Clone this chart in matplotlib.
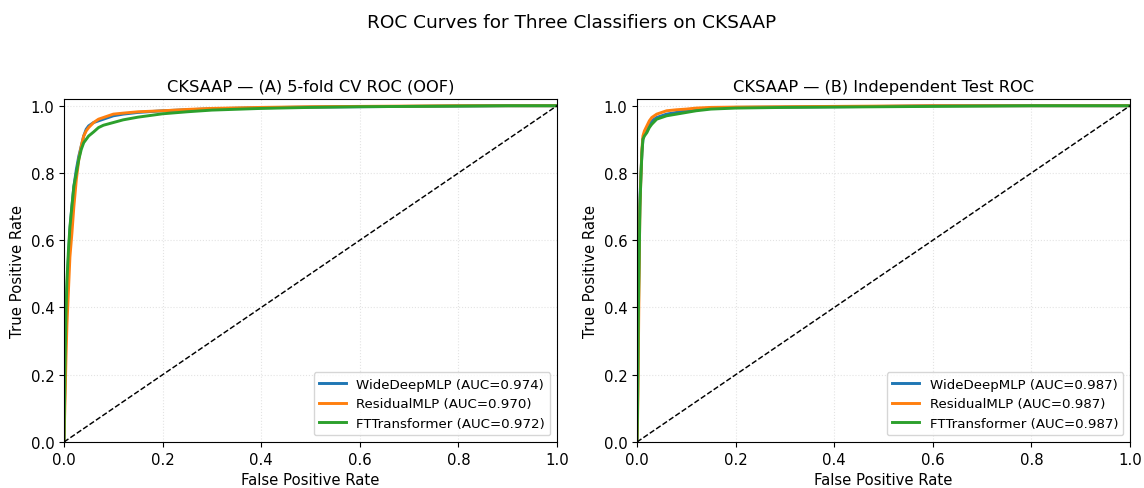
import matplotlib
matplotlib.use("Agg")
import matplotlib.pyplot as plt

models = ["WideDeepMLP", "ResidualMLP", "FTTransformer"]
colors = ["#1f77b4", "#ff7f0e", "#2ca02c"]

cv_auc = [0.974, 0.970, 0.972]
test_auc = [0.987, 0.987, 0.987]

cv_fpr = [0, 0.002, 0.004, 0.006, 0.009, 0.012, 0.016, 0.02, 0.025, 0.03, 0.035, 0.04,
          0.045, 0.05, 0.06, 0.07, 0.08, 0.1, 0.12, 0.15, 0.2, 0.25, 0.3, 0.4, 0.5, 0.6,
          0.7, 0.8, 0.9, 1.0]
cv_tpr_wide = [0, 0.2, 0.35, 0.45, 0.55, 0.63, 0.7, 0.76, 0.81, 0.85, 0.88, 0.91, 0.93,
               0.94, 0.95, 0.955, 0.96, 0.97, 0.975, 0.98, 0.985, 0.988, 0.991, 0.994,
               0.996, 0.997, 0.998, 0.999, 1.0, 1.0]
cv_tpr_res = [0, 0.12, 0.25, 0.35, 0.45, 0.55, 0.62, 0.7, 0.78, 0.84, 0.88, 0.91, 0.925,
              0.935, 0.95, 0.96, 0.965, 0.975, 0.978, 0.982, 0.985, 0.989, 0.992, 0.995,
              0.997, 0.998, 0.999, 1.0, 1.0, 1.0]
cv_tpr_ft = [0, 0.22, 0.38, 0.48, 0.57, 0.64, 0.7, 0.76, 0.8, 0.84, 0.87, 0.89, 0.9, 0.91,
             0.922, 0.935, 0.942, 0.95, 0.958, 0.966, 0.976, 0.982, 0.987, 0.992, 0.995,
             0.997, 0.998, 0.999, 1.0, 1.0]

test_fpr = [0, 0.001, 0.002, 0.003, 0.004, 0.005, 0.006, 0.008, 0.01, 0.012, 0.015, 0.02,
            0.025, 0.03, 0.04, 0.05, 0.06, 0.08, 0.1, 0.12, 0.15, 0.2, 0.3, 0.4, 0.5, 0.6,
            0.8, 1.0]
test_tpr_wide = [0, 0.1, 0.3, 0.45, 0.55, 0.65, 0.72, 0.8, 0.86, 0.9, 0.915, 0.93, 0.945,
                 0.955, 0.965, 0.97, 0.975, 0.98, 0.985, 0.99, 0.993, 0.995, 0.996, 0.997,
                 0.998, 1.0, 1.0, 1.0]
test_tpr_res = [0, 0.05, 0.15, 0.3, 0.45, 0.6, 0.7, 0.79, 0.87, 0.91, 0.925, 0.94, 0.955,
                0.965, 0.975, 0.98, 0.985, 0.988, 0.99, 0.993, 0.995, 0.996, 0.997, 0.998,
                0.999, 1.0, 1.0, 1.0]
test_tpr_ft = [0, 0.08, 0.25, 0.4, 0.5, 0.6, 0.7, 0.79, 0.86, 0.9, 0.91, 0.92, 0.935,
               0.945, 0.96, 0.965, 0.97, 0.975, 0.98, 0.985, 0.99, 0.993, 0.995, 0.996,
               0.997, 0.998, 1.0, 1.0]

cv_tprs = [cv_tpr_wide, cv_tpr_res, cv_tpr_ft]
test_tprs = [test_tpr_wide, test_tpr_res, test_tpr_ft]

fig = plt.figure(figsize=(11.44, 4.89), dpi=100)
ax1 = fig.add_axes([64/1144, 46/489, 493/1144, 343/489])
ax2 = fig.add_axes([637/1144, 46/489, 493/1144, 343/489])

panels = [
    (ax1, cv_fpr, cv_tprs, cv_auc, "CKSAAP — (A) 5-fold CV ROC (OOF)"),
    (ax2, test_fpr, test_tprs, test_auc, "CKSAAP — (B) Independent Test ROC"),
]

for ax, fpr, tprs, aucs, title in panels:
    for name, tpr, auc, c in zip(models, tprs, aucs, colors):
        ax.plot(fpr, tpr, color=c, lw=2.1, label=f"{name} (AUC={auc:.3f})")
    ax.plot([0, 1], [0, 1], "k--", lw=1.05)
    ax.set_xlim(0, 1)
    ax.set_ylim(0, 1.02)
    ax.set_xlabel("False Positive Rate", fontsize=10.7)
    ax.set_ylabel("True Positive Rate", fontsize=10.7)
    ax.set_title(title, fontsize=11.7)
    ax.tick_params(labelsize=10.7)
    ax.grid(True, linestyle=":", alpha=0.35)
    ax.legend(loc="lower right", fontsize=9.6)

fig.suptitle("ROC Curves for Three Classifiers on CKSAAP", fontsize=13.3, y=0.972)

fig.savefig("out.png", dpi=100)
